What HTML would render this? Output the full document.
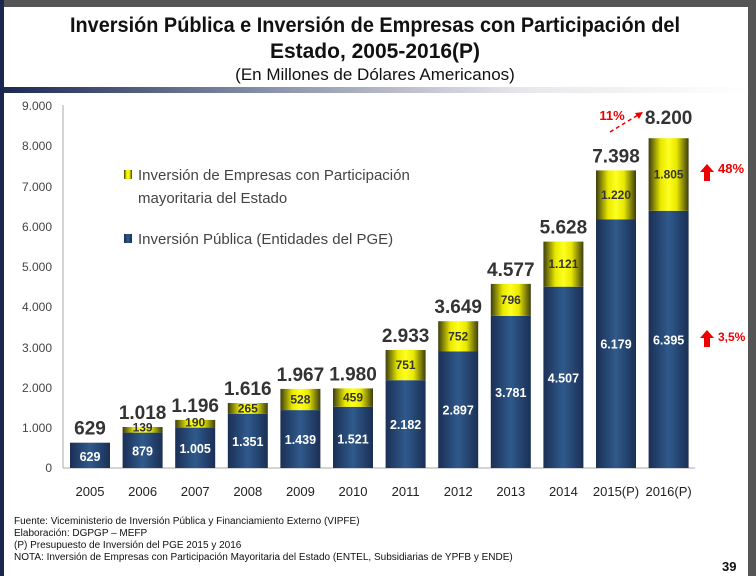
<!DOCTYPE html>
<html><head><meta charset="utf-8"><style>
body{margin:0;width:756px;height:576px;overflow:hidden;background:#fff;font-family:"Liberation Sans",sans-serif;}
</style></head><body>
<svg width="756" height="576" viewBox="0 0 756 576" xmlns="http://www.w3.org/2000/svg">
<defs>
<linearGradient id="hg" x1="0" x2="1" y1="0" y2="0"><stop offset="0" stop-color="#1b2f55"/><stop offset="0.5" stop-color="#2f5a8c"/><stop offset="1" stop-color="#1b2f55"/></linearGradient>
<linearGradient id="yg" x1="0" x2="1" y1="0" y2="0"><stop offset="0" stop-color="#3d3d10"/><stop offset="0.3" stop-color="#e8e800"/><stop offset="0.5" stop-color="#ffff20"/><stop offset="0.7" stop-color="#e8e800"/><stop offset="1" stop-color="#3d3d10"/></linearGradient>
<linearGradient id="bar" x1="0" x2="1"><stop offset="0" stop-color="#1a2a55"/><stop offset="0.35" stop-color="#8890a8"/><stop offset="0.7" stop-color="#e8e8ec"/><stop offset="1" stop-color="#fff"/></linearGradient>
</defs>
<rect x="0" y="0" width="756" height="576" fill="#fff"/>
<rect x="0" y="0" width="756" height="7" fill="#555"/>
<rect x="748" y="0" width="8" height="576" fill="#555"/>
<rect x="0" y="0" width="4" height="576" fill="#1a2550"/>
<rect x="4" y="87" width="744" height="6" fill="url(#bar)"/>
<g font-weight="bold" font-size="21" text-anchor="middle" fill="#111">
<text x="375" y="32" textLength="610" lengthAdjust="spacingAndGlyphs">Inversión Pública e Inversión de Empresas con Participación del</text>
<text x="375" y="58">Estado, 2005-2016(P)</text>
</g>
<text x="375" y="80" text-anchor="middle" font-size="17" fill="#111">(En Millones de Dólares Americanos)</text>
<line x1="63" y1="105" x2="63" y2="468" stroke="#aaa"/>
<line x1="63" y1="468" x2="695" y2="468" stroke="#aaa"/>
<g font-size="12" fill="#444" text-anchor="end">
<text x="52" y="110">9.000</text><text x="52" y="150">8.000</text><text x="52" y="191">7.000</text><text x="52" y="231">6.000</text><text x="52" y="271">5.000</text><text x="52" y="311">4.000</text><text x="52" y="352">3.000</text><text x="52" y="392">2.000</text><text x="52" y="432">1.000</text><text x="52" y="472">0</text>
</g>
<rect x="124" y="170" width="8" height="9" fill="url(#yg)"/>
<rect x="124" y="234" width="8" height="9" fill="url(#hg)"/>
<g font-size="15" fill="#444">
<text x="138" y="180">Inversión de Empresas con Participación</text>
<text x="138" y="203">mayoritaria del Estado</text>
<text x="138" y="244">Inversión Pública (Entidades del PGE)</text>
</g>

<!-- blue bars -->
<g fill="url(#hg)">
<rect x="70" y="442.7" width="40" height="25.3"/>
<rect x="122.6" y="432.6" width="40" height="35.4"/>
<rect x="175.2" y="427.6" width="40" height="40.4"/>
<rect x="227.8" y="413.7" width="40" height="54.3"/>
<rect x="280.4" y="410.1" width="40" height="57.9"/>
<rect x="333" y="406.8" width="40" height="61.2"/>
<rect x="385.6" y="380.2" width="40" height="87.8"/>
<rect x="438.2" y="351.5" width="40" height="116.5"/>
<rect x="490.8" y="315.9" width="40" height="152.1"/>
<rect x="543.4" y="286.7" width="40" height="181.3"/>
<rect x="596" y="219.5" width="40" height="248.5"/>
<rect x="648.6" y="210.8" width="40" height="257.2"/>
</g>
<!-- yellow bars -->
<g fill="url(#yg)">
<rect x="122.6" y="427.0" width="40" height="5.6"/>
<rect x="175.2" y="419.9" width="40" height="7.7"/>
<rect x="227.8" y="403.0" width="40" height="10.7"/>
<rect x="280.4" y="388.9" width="40" height="21.2"/>
<rect x="333" y="388.4" width="40" height="18.4"/>
<rect x="385.6" y="350.0" width="40" height="30.2"/>
<rect x="438.2" y="321.2" width="40" height="30.3"/>
<rect x="490.8" y="283.9" width="40" height="32.0"/>
<rect x="543.4" y="241.6" width="40" height="45.1"/>
<rect x="596" y="170.4" width="40" height="49.1"/>
<rect x="648.6" y="138.2" width="40" height="72.6"/>
</g>
<!-- blue labels -->
<g font-size="12.5" font-weight="bold" fill="#fff" text-anchor="middle">
<text x="90" y="461">629</text>
<text x="142.6" y="455.3">879</text>
<text x="195.2" y="452.8">1.005</text>
<text x="247.8" y="445.8">1.351</text>
<text x="300.4" y="444.1">1.439</text>
<text x="353" y="443.4">1.521</text>
<text x="405.6" y="429.1">2.182</text>
<text x="458.2" y="414.7">2.897</text>
<text x="510.8" y="397">3.781</text>
<text x="563.4" y="382.4">4.507</text>
<text x="616" y="348.7">6.179</text>
<text x="668.6" y="344.4">6.395</text>
</g>
<!-- yellow labels -->
<g font-size="12" font-weight="bold" fill="#333" text-anchor="middle">
<text x="142.6" y="431.6">139</text>
<text x="195.2" y="426.6">190</text>
<text x="247.8" y="412.4">265</text>
<text x="300.4" y="403.5">528</text>
<text x="353" y="401.6">459</text>
<text x="405.6" y="369.1">751</text>
<text x="458.2" y="340.4">752</text>
<text x="510.8" y="303.9">796</text>
<text x="563.4" y="268.2">1.121</text>
<text x="616" y="199">1.220</text>
<text x="668.6" y="178.5">1.805</text>
</g>
<!-- totals -->
<g font-size="19" font-weight="bold" fill="#333" text-anchor="middle">
<text x="90" y="434.7">629</text>
<text x="142.6" y="419">1.018</text>
<text x="195.2" y="411.9">1.196</text>
<text x="247.8" y="395">1.616</text>
<text x="300.4" y="380.9">1.967</text>
<text x="353" y="380.4">1.980</text>
<text x="405.6" y="342">2.933</text>
<text x="458.2" y="313.2">3.649</text>
<text x="510.8" y="275.9">4.577</text>
<text x="563.4" y="233.6">5.628</text>
<text x="616" y="162.4">7.398</text>
<text x="668.6" y="124">8.200</text>
</g>
<!-- years -->
<g font-size="13" fill="#222" text-anchor="middle">
<text x="90" y="496">2005</text><text x="142.6" y="496">2006</text><text x="195.2" y="496">2007</text><text x="247.8" y="496">2008</text><text x="300.4" y="496">2009</text><text x="353" y="496">2010</text><text x="405.6" y="496">2011</text><text x="458.2" y="496">2012</text><text x="510.8" y="496">2013</text><text x="563.4" y="496">2014</text><text x="616" y="496">2015(P)</text><text x="668.6" y="496">2016(P)</text>
</g>
<text x="612" y="120" font-size="13" fill="#e00" text-anchor="middle" font-weight="bold">11%</text>
<path d="M610 132 L638 115" stroke="#e00" stroke-width="1.5" stroke-dasharray="4,3" fill="none"/>
<path d="M643 112 L635 113 L639 119 Z" fill="#e00"/>
<path d="M700 172 L707 164 L714 172 L710 172 L710 181 L704 181 L704 172 Z" fill="#e00"/>
<text x="718" y="173" font-size="13" fill="#e00" font-weight="bold">48%</text>
<path d="M700 338 L707 330 L714 338 L710 338 L710 347 L704 347 L704 338 Z" fill="#e00"/>
<text x="718" y="341" font-size="12" fill="#e00" font-weight="bold">3,5%</text>
<g font-size="10" fill="#111">
<text x="14" y="524">Fuente: Viceministerio de Inversión Pública y Financiamiento Externo (VIPFE)</text>
<text x="14" y="536">Elaboración: DGPGP – MEFP</text>
<text x="14" y="548">(P) Presupuesto de Inversión del PGE 2015 y 2016</text>
<text x="14" y="560">NOTA: Inversión de Empresas con Participación Mayoritaria del Estado (ENTEL, Subsidiarias de YPFB y ENDE)</text>
</g>
<text x="722" y="571" font-size="13" font-weight="bold" fill="#111">39</text>
</svg>
</body></html>
